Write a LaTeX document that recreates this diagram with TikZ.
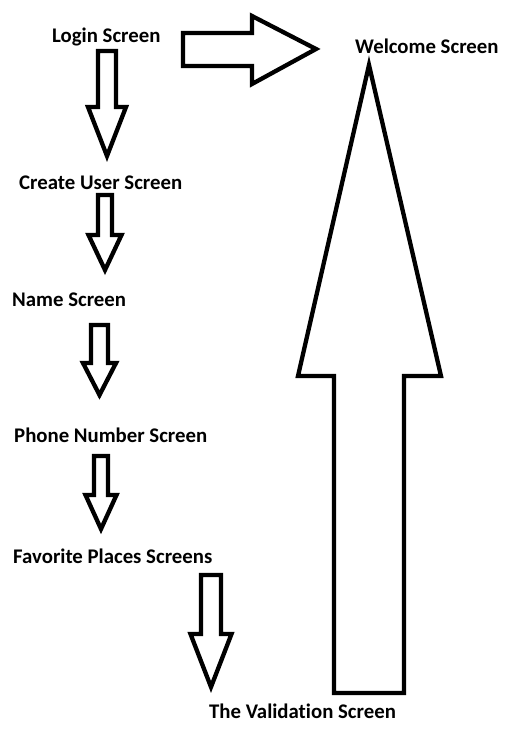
\documentclass[tikz,border=0pt]{standalone}
\usepackage{fontspec}
\setmainfont{Carlito}[Ligatures=NoCommon]
\begin{document}
\begin{tikzpicture}
    [x=1pt, y=-1pt,
     label/.style={anchor=base west, inner sep=0pt, font=\fontsize{20.8}{25}\selectfont\bfseries},
     blk/.style={draw=black, line width=4.3pt, fill=white}]
    \useasboundingbox[fill=white] (0,0) rectangle (507,737);
    \node[label] (login) at (52,42) {Login Screen};
    \node[label] (welcome) at (355,53) {Welcome Screen};
    \node[label] (create) at (19,189) {Create User Screen};
    \node[label] (name) at (12,306) {Name Screen};
    \node[label] (phone) at (14,442) {Phone Number Screen};
    \node[label] (places) at (13,563) {Favorite Places Screens};
    \node[label] (valid) at (209,718) {The Validation Screen};
    % down arrows
    \foreach \ax/\ay/\hy/\ty/\sw/\hw in {107/51/107/156/9/19, 105/195/235/270/7/16.5,
        99.5/325/363/395/8.5/16.5, 101/456/495/529/7/15.5, 211/575/634/687/10/20.5}
        \draw[blk] (\ax-\sw,\ay) -- (\ax+\sw,\ay) -- (\ax+\sw,\hy) -- (\ax+\hw,\hy)
            -- (\ax,\ty) -- (\ax-\hw,\hy) -- (\ax-\sw,\hy) -- cycle;
    % to welcome
    \draw[blk] (183,33) -- (252,33) -- (252,16) -- (316,49) -- (252,84) -- (252,66)
        -- (183,66) -- cycle;
    % back up
    \draw[blk] (334,693) -- (334,376) -- (298,376) -- (369,65) -- (441,376) -- (404,376)
        -- (404,693) -- cycle;
\end{tikzpicture}
\end{document}
